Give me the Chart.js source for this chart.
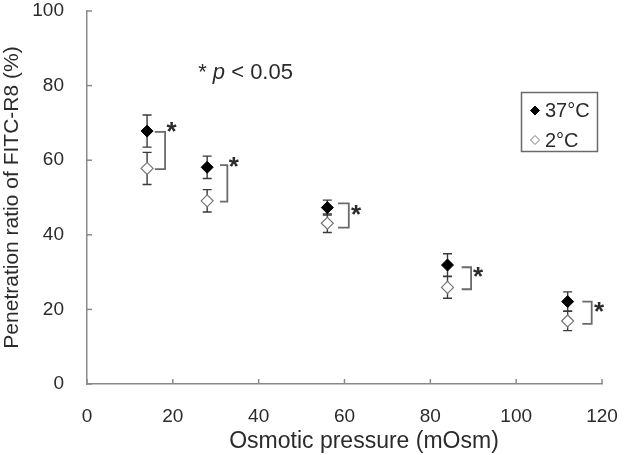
<!DOCTYPE html>
<html>
<head>
<meta charset="utf-8">
<script src="https://cdn.jsdelivr.net/npm/chart.js@4/dist/chart.umd.min.js"></script>
<style>
  html, body { margin: 0; padding: 0; background: #fff; }
  #wrap { width: 633px; height: 455px; }
</style>
</head>
<body>
<div id="wrap"><canvas id="osmoChart"></canvas></div>
<script>
// osmotic pressure (mOsm)
const pressures = [14, 28, 56, 84, 112]

// 37 C
const warmLabel = '37°C'
const warmMeans = [67.8, 58.1, 47.3, 31.9, 22.1]
const warmErrs = [4.3, 3.0, 2.0, 3.0, 2.6]

// 2 C
const coldLabel = '2°C'
const coldMeans = [57.8, 49.1, 43.1, 25.9, 16.9]
const coldErrs = [4.3, 3.0, 2.5, 2.9, 2.6]

// significance brackets  ] *
const bracketLeft = [15.8, 31.0, 58.5, 87.3, 115.4]
const bracketRight = [18.2, 32.7, 61.0, 89.5, 117.6]
const bracketTop = [67.6, 58.7, 48.4, 31.3, 22.1]
const bracketBottom = [57.6, 48.9, 41.9, 25.4, 16.1]
const starX = [19.7, 34.2, 62.7, 91.1, 119.3]
const starY = [69.0, 59.6, 46.6, 30.1, 20.7]

const noteX = 25.9
const noteY = 83.3

const xTicks = [0, 20, 40, 60, 80, 100, 120]
const yTicks = [0, 20, 40, 60, 80, 100]
const xTitle = 'Osmotic pressure (mOsm)'
const yTitle = 'Penetration ratio of FITC-R8 (%)'

const FONT = '"Liberation Sans", Arial, sans-serif'
const AXIS = '#8a8a8a'
const TXT = '#2b2b2b'

const toPoints = (xs, ys) => xs.map((x, i) => ({ x: x, y: ys[i] }))

const noPad = s => { s.paddingTop = 0; s.paddingBottom = 0; s.paddingLeft = 0; s.paddingRight = 0 }

const extras = {
  id: 'extras',
  beforeDatasetsDraw(chart) {
    const ctx = chart.ctx
    const sx = chart.scales.x, sy = chart.scales.y
    ctx.save()
    ctx.strokeStyle = '#3a3a3a'
    ctx.lineWidth = 1.4
    const bars = [[warmMeans, warmErrs], [coldMeans, coldErrs]]
    bars.forEach(([means, errs]) => {
      pressures.forEach((p, i) => {
        const x = sx.getPixelForValue(p)
        const yt = sy.getPixelForValue(means[i] + errs[i])
        const yb = sy.getPixelForValue(means[i] - errs[i])
        ctx.beginPath()
        ctx.moveTo(x, yt); ctx.lineTo(x, yb)
        ctx.moveTo(x - 4.5, yt); ctx.lineTo(x + 4.5, yt)
        ctx.moveTo(x - 4.5, yb); ctx.lineTo(x + 4.5, yb)
        ctx.stroke()
      })
    })
    ctx.restore()
  },
  afterDraw(chart) {
    const ctx = chart.ctx
    const sx = chart.scales.x, sy = chart.scales.y
    const area = chart.chartArea
    ctx.save()

    // inside ticks
    ctx.strokeStyle = AXIS
    ctx.lineWidth = 1.5
    yTicks.forEach(v => {
      const y = sy.getPixelForValue(v)
      ctx.beginPath(); ctx.moveTo(area.left, y); ctx.lineTo(area.left + 5, y); ctx.stroke()
    })
    xTicks.forEach(v => {
      const x = sx.getPixelForValue(v)
      ctx.beginPath(); ctx.moveTo(x, area.bottom); ctx.lineTo(x, area.bottom - 5); ctx.stroke()
    })

    // x axis title (sits a little right of centre in the original)
    ctx.fillStyle = TXT
    ctx.font = '23px ' + FONT
    ctx.textAlign = 'center'
    ctx.textBaseline = 'middle'
    ctx.fillText(xTitle, 364, 442)

    // brackets
    ctx.strokeStyle = '#6a6a6a'
    ctx.lineWidth = 1.8
    pressures.forEach((p, i) => {
      const x0 = sx.getPixelForValue(bracketLeft[i])
      const x1 = sx.getPixelForValue(bracketRight[i])
      const y0 = sy.getPixelForValue(bracketTop[i])
      const y1 = sy.getPixelForValue(bracketBottom[i])
      ctx.beginPath()
      ctx.moveTo(x0, y0); ctx.lineTo(x1, y0); ctx.lineTo(x1, y1); ctx.lineTo(x0, y1)
      ctx.stroke()
    })

    // asterisks
    ctx.font = 'bold 26px ' + FONT
    starX.forEach((v, i) => {
      ctx.fillText('*', sx.getPixelForValue(v), sy.getPixelForValue(starY[i]) + 6)
    })

    // * p < 0.05
    ctx.textAlign = 'left'
    let nx = sx.getPixelForValue(noteX)
    const ny = sy.getPixelForValue(noteY)
    ctx.font = '22px ' + FONT
    ctx.fillText('* ', nx, ny); nx += ctx.measureText('* ').width
    ctx.font = 'italic 22px ' + FONT
    ctx.fillText('p', nx, ny); nx += ctx.measureText('p').width
    ctx.font = '22px ' + FONT
    ctx.fillText(' < 0.05', nx, ny)

    // legend box
    ctx.strokeStyle = '#6a6a6a'
    ctx.lineWidth = 1.5
    ctx.strokeRect(521.5, 92.5, 76, 59)
    const rows = [[warmLabel, '#000', '#000', 110.5], [coldLabel, '#fff', '#777', 140]]
    rows.forEach(([label, fill, stroke, y]) => {
      ctx.beginPath()
      ctx.moveTo(535, y - 4.5); ctx.lineTo(539.5, y); ctx.lineTo(535, y + 4.5); ctx.lineTo(530.5, y)
      ctx.closePath()
      ctx.fillStyle = fill; ctx.fill()
      ctx.strokeStyle = stroke; ctx.lineWidth = 1; ctx.stroke()
      ctx.fillStyle = TXT
      ctx.font = '20px ' + FONT
      ctx.fillText(label, 545, y + 1)
    })
    ctx.restore()
  }
}

new Chart(document.getElementById('osmoChart'), {
  type: 'scatter',
  data: {
    datasets: [
      {
        label: warmLabel,
        data: toPoints(pressures, warmMeans),
        pointStyle: 'rectRot',
        pointRadius: 6,
        backgroundColor: '#000',
        borderColor: '#000',
        borderWidth: 1,
      },
      {
        label: coldLabel,
        data: toPoints(pressures, coldMeans),
        pointStyle: 'rectRot',
        pointRadius: 6,
        backgroundColor: '#fff',
        borderColor: '#777',
        borderWidth: 1.2,
      },
    ]
  },
  options: {
    responsive: true,
    maintainAspectRatio: false,
    animation: false,
    layout: { padding: { top: 11, right: 31, left: 0, bottom: 0 } },
    plugins: {
      legend: { display: false },
      tooltip: { enabled: false }
    },
    scales: {
      x: {
        type: 'linear',
        min: 0,
        max: 120,
        afterBuildTicks: s => { s.ticks = xTicks.map(v => ({ value: v })) },
        afterFit: s => { s.height = 71; noPad(s) },
        grid: { display: true, drawOnChartArea: false, drawTicks: false },
        border: { color: AXIS, width: 1.5 },
        ticks: { color: TXT, font: { family: FONT, size: 19 }, padding: 21 },
        title: { display: false }
      },
      y: {
        type: 'linear',
        min: 0,
        max: 100,
        afterBuildTicks: s => { s.ticks = yTicks.map(v => ({ value: v })) },
        afterFit: s => { s.width = 87; noPad(s) },
        grid: { display: true, drawOnChartArea: false, drawTicks: false },
        border: { color: AXIS, width: 1.5 },
        ticks: { color: TXT, font: { family: FONT, size: 19 }, padding: 23 },
        title: {
          display: true,
          text: yTitle,
          color: TXT,
          font: { family: FONT, size: 21 },
          padding: 0
        }
      }
    }
  },
  plugins: [extras]
})
</script>
</body>
</html>
